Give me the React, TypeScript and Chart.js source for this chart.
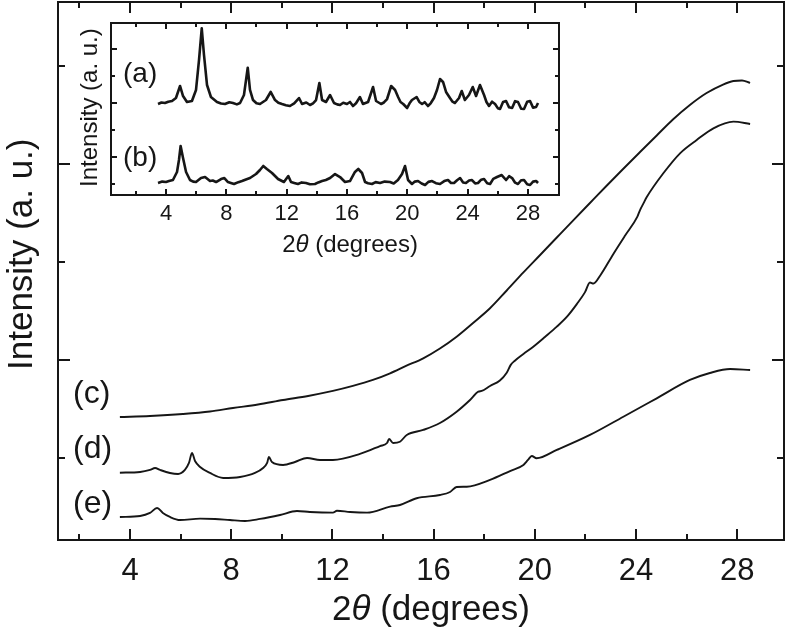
import React, { useEffect, useRef } from "react";
import { Chart, registerables } from "chart.js";

Chart.register(...registerables);

// ---------------- main plot data (2θ in degrees, intensity in a.u.) ----------------
const cTheta = [3.6, 4.79, 6.09, 7.16, 8.07, 9.06, 10.05, 11.04, 12.02, 12.81, 13.6, 14.28, 14.91, 15.59, 16.25, 16.91, 17.56, 18.23, 18.89, 19.55, 20.21, 20.87, 21.51, 22.18, 22.81, 23.49, 24.16, 24.82, 25.46, 26.13, 26.79, 27.44, 27.85, 28.19, 28.51];
const cInt = [0.418, 0.429, 0.449, 0.474, 0.51, 0.546, 0.592, 0.633, 0.684, 0.735, 0.796, 0.864, 0.939, 1.017, 1.117, 1.238, 1.378, 1.528, 1.709, 1.893, 2.071, 2.25, 2.423, 2.602, 2.77, 2.949, 3.122, 3.291, 3.454, 3.602, 3.724, 3.811, 3.847, 3.852, 3.827];

const dTheta = [3.6, 4.4, 4.79, 4.99, 5.19, 5.58, 5.9, 6.17, 6.33, 6.45, 6.57, 6.77, 7.16, 7.68, 8.35, 8.94, 9.26, 9.42, 9.49, 9.61, 10.05, 10.52, 11.0, 11.51, 12.02, 13.09, 13.88, 14.16, 14.24, 14.4, 14.67, 14.94, 15.59, 16.25, 16.91, 17.44, 17.77, 17.9, 18.23, 18.62, 18.89, 19.05, 19.2, 19.55, 19.94, 20.4, 20.87, 21.3, 21.66, 21.98, 22.18, 22.32, 22.58, 23.1, 23.57, 24.05, 24.16, 24.3, 24.42, 25.08, 25.74, 26.4, 27.06, 27.85, 28.51];
const dInt = [-0.15, -0.143, -0.122, -0.102, -0.122, -0.153, -0.163, -0.122, -0.051, 0.051, -0.031, -0.092, -0.153, -0.204, -0.194, -0.153, -0.102, -0.051, 0.01, -0.041, -0.071, -0.041, 0.0, -0.02, -0.02, 0.041, 0.122, 0.153, 0.194, 0.153, 0.166, 0.235, 0.286, 0.357, 0.472, 0.592, 0.677, 0.684, 0.735, 0.79, 0.87, 0.95, 0.99, 1.061, 1.136, 1.235, 1.34, 1.45, 1.57, 1.69, 1.79, 1.78, 1.86, 2.08, 2.27, 2.46, 2.53, 2.6, 2.66, 2.905, 3.109, 3.245, 3.364, 3.432, 3.408];

const eTheta = [3.6, 4.4, 4.79, 5.07, 5.3, 5.58, 5.98, 6.77, 7.36, 7.95, 8.55, 9.14, 9.93, 10.6, 11.11, 12.02, 12.18, 12.7, 13.37, 14.28, 14.67, 15.33, 16.25, 16.65, 16.91, 17.31, 18.23, 19.02, 19.55, 19.73, 19.88, 20.07, 20.87, 22.18, 23.5, 24.82, 26.13, 26.92, 27.72, 28.51];
const eInt = [-0.602, -0.592, -0.561, -0.51, -0.561, -0.602, -0.633, -0.619, -0.622, -0.633, -0.643, -0.622, -0.582, -0.541, -0.551, -0.558, -0.538, -0.551, -0.558, -0.497, -0.48, -0.411, -0.378, -0.347, -0.296, -0.293, -0.224, -0.133, -0.071, -0.02, 0.02, -0.003, 0.082, 0.235, 0.421, 0.609, 0.796, 0.867, 0.908, 0.898];

const mainCurveLabels = ["(c)", "(d)", "(e)"];
const mainXTickValues = [2, 4, 6, 8, 10, 12, 14, 16, 18, 20, 22, 24, 26, 28];
const mainXTickLabels = ["4", "8", "12", "16", "20", "24", "28"];
const mainXLabelValues = [4, 8, 12, 16, 20, 24, 28];
const mainYTickValues = [0, 1, 2, 3, 4];
const mainYMajorValues = [1, 3];

// ---------------- inset data ----------------
const aTheta = [3.47, 3.7, 3.93, 4.15, 4.4, 4.66, 4.93, 5.13, 5.39, 5.72, 5.99, 6.19, 6.37, 6.52, 6.72, 6.98, 7.38, 7.65, 7.91, 8.2, 8.44, 8.7, 8.91, 9.17, 9.42, 9.57, 9.77, 10.0, 10.23, 10.63, 10.94, 11.23, 11.45, 11.69, 11.95, 12.22, 12.5, 12.82, 13.02, 13.3, 13.55, 13.75, 13.95, 14.17, 14.35, 14.61, 14.88, 15.14, 15.35, 15.54, 15.75, 16.0, 16.2, 16.4, 16.6, 16.86, 17.06, 17.4, 17.73, 17.93, 18.26, 18.45, 18.66, 18.93, 19.19, 19.39, 19.55, 19.73, 19.99, 20.15, 20.31, 20.62, 20.8, 20.98, 21.15, 21.37, 21.55, 21.77, 21.97, 22.17, 22.37, 22.57, 22.83, 23.0, 23.16, 23.43, 23.61, 23.82, 24.09, 24.34, 24.56, 24.82, 25.09, 25.25, 25.42, 25.62, 25.82, 26.0, 26.15, 26.35, 26.55, 26.75, 26.95, 27.15, 27.34, 27.55, 27.74, 27.95, 28.14, 28.34, 28.54, 28.67];
const aInt = [2.974, 3.03, 3.011, 3.06, 3.085, 3.196, 3.641, 3.27, 3.048, 3.085, 3.493, 4.604, 5.778, 4.789, 3.678, 3.233, 3.048, 2.99, 2.974, 3.04, 3.011, 2.96, 3.011, 3.307, 4.319, 3.493, 3.122, 3.0, 2.974, 3.122, 3.419, 3.122, 3.02, 2.974, 2.93, 2.9, 3.0, 3.196, 2.974, 3.03, 2.937, 3.0, 3.122, 3.752, 3.122, 3.048, 3.307, 3.011, 2.96, 2.937, 3.02, 2.974, 3.05, 2.9, 3.0, 3.233, 2.974, 3.048, 3.604, 3.085, 2.974, 3.03, 3.159, 3.641, 3.493, 3.233, 3.05, 2.974, 2.826, 3.0, 3.122, 3.233, 3.05, 2.974, 3.04, 2.9, 3.0, 3.196, 3.493, 3.9, 3.789, 3.419, 3.196, 3.06, 3.011, 3.196, 3.456, 3.122, 3.307, 3.604, 3.27, 3.678, 3.307, 3.05, 2.9, 3.06, 2.974, 2.82, 2.789, 3.05, 3.085, 2.85, 2.826, 3.08, 3.048, 2.8, 2.789, 3.06, 3.085, 2.84, 2.863, 3.011];

const bTheta = [3.47, 3.75, 4.0, 4.2, 4.46, 4.73, 4.86, 4.97, 5.13, 5.33, 5.59, 5.8, 5.99, 6.32, 6.59, 6.92, 7.1, 7.32, 7.65, 7.87, 8.11, 8.3, 8.51, 8.8, 9.04, 9.3, 9.57, 9.97, 10.23, 10.45, 10.69, 11.03, 11.43, 11.82, 12.11, 12.29, 12.5, 12.75, 13.0, 13.28, 13.55, 13.88, 14.1, 14.35, 14.6, 14.88, 15.21, 15.54, 15.87, 16.2, 16.53, 16.75, 17.0, 17.2, 17.4, 17.66, 17.9, 18.19, 18.5, 18.85, 19.1, 19.38, 19.65, 19.85, 20.05, 20.31, 20.5, 20.71, 20.95, 21.18, 21.4, 21.64, 21.9, 22.17, 22.45, 22.7, 22.9, 23.1, 23.3, 23.5, 23.7, 23.89, 24.1, 24.29, 24.5, 24.69, 24.9, 25.09, 25.3, 25.49, 25.7, 25.95, 26.26, 26.55, 26.75, 26.95, 27.15, 27.34, 27.55, 27.74, 27.95, 28.14, 28.34, 28.54, 28.67];
const bInt = [0.048, 0.1, 0.085, 0.12, 0.159, 0.456, 0.9, 1.419, 0.974, 0.456, 0.159, 0.1, 0.085, 0.233, 0.27, 0.122, 0.14, 0.085, 0.196, 0.233, 0.085, 0.05, 0.011, 0.08, 0.122, 0.18, 0.233, 0.381, 0.53, 0.678, 0.567, 0.419, 0.196, 0.085, 0.307, 0.085, 0.05, 0.011, 0.07, 0.048, 0.0, 0.011, 0.07, 0.122, 0.16, 0.233, 0.381, 0.27, 0.085, 0.122, 0.456, 0.567, 0.419, 0.085, 0.04, 0.011, 0.08, 0.048, 0.1, 0.085, 0.03, 0.159, 0.381, 0.678, 0.159, 0.011, 0.1, 0.122, 0.03, -0.026, 0.09, 0.122, 0.04, 0.011, 0.12, 0.159, 0.05, 0.048, 0.15, 0.233, 0.07, 0.048, 0.14, 0.159, 0.03, 0.048, 0.17, 0.196, 0.04, 0.011, 0.2, 0.27, 0.344, 0.159, 0.3, 0.233, 0.06, 0.011, 0.15, 0.159, 0.0, -0.026, 0.1, 0.122, 0.048];

const insetCurveLabels = ["(a)", "(b)"];
const insetXTickValues = [2, 4, 6, 8, 10, 12, 14, 16, 18, 20, 22, 24, 26, 28];
const insetXLabelValues = [4, 8, 12, 16, 20, 24, 28];
const insetXTickLabels = ["4", "8", "12", "16", "20", "24", "28"];
const insetYTickValues = [0, 1, 2, 3, 4, 5];

const FONT = "'Liberation Sans', Arial, Helvetica, sans-serif";
const INK = "#161616";

const toPts = (xs: number[], ys: number[]) => xs.map((x, i) => ({ x, y: ys[i] }));

function drawAxisTitle(ctx: CanvasRenderingContext2D, cx: number, baseline: number, size: number) {
  const parts = [
    { t: "2", f: `${size}px ${FONT}` },
    { t: "\u03b8", f: `italic ${size}px ${FONT}` },
    { t: " (degrees)", f: `${size}px ${FONT}` },
  ];
  let total = 0;
  for (const p of parts) {
    ctx.font = p.f;
    total += ctx.measureText(p.t).width;
  }
  let x = cx - total / 2;
  ctx.textAlign = "left";
  ctx.textBaseline = "alphabetic";
  for (const p of parts) {
    ctx.font = p.f;
    ctx.fillText(p.t, x, baseline);
    x += ctx.measureText(p.t).width;
  }
}

type FrameCfg = {
  frameWidth: number;
  xTicks: number[];
  xLabelValues: number[];
  xLabels: string[];
  yTicks: number[];
  yMajor: number[];
  xMajorLen: number;
  xMinorLen: number;
  yMajorLen: number;
  yMinorLen: number;
  tickFont: number;
  tickBaseline: number;
  titleFont: number;
  titleCx: number;
  titleBaseline: number;
  yTitleFont: number;
  yTitleX: number;
  yTitleStartY: number;
  curveLabels: string[];
  curveLabelFont: number;
  curveLabelX: number;
  curveLabelBaselines: number[];
};

function makeFramePlugin(cfg: FrameCfg) {
  return {
    id: "frameTicks",
    afterDraw(chart: any) {
      const { ctx, chartArea: a, scales } = chart;
      const xs = scales.x;
      const ys = scales.y;
      ctx.save();
      ctx.strokeStyle = INK;
      ctx.fillStyle = INK;
      ctx.lineWidth = cfg.frameWidth;
      ctx.lineCap = "butt";
      ctx.strokeRect(a.left, a.top, a.right - a.left, a.bottom - a.top);
      const seg = (x1: number, y1: number, x2: number, y2: number) => {
        ctx.beginPath();
        ctx.moveTo(x1, y1);
        ctx.lineTo(x2, y2);
        ctx.stroke();
      };
      for (const v of cfg.xTicks) {
        const px = Math.round(xs.getPixelForValue(v));
        const len = v % 4 === 0 ? cfg.xMajorLen : cfg.xMinorLen;
        seg(px, a.bottom, px, a.bottom - len);
        seg(px, a.top, px, a.top + len);
      }
      for (const v of cfg.yTicks) {
        const py = Math.round(ys.getPixelForValue(v));
        const len = cfg.yMajor.includes(v) ? cfg.yMajorLen : cfg.yMinorLen;
        seg(a.left, py, a.left + len, py);
        seg(a.right, py, a.right - len, py);
      }
      ctx.font = `${cfg.tickFont}px ${FONT}`;
      ctx.textAlign = "center";
      ctx.textBaseline = "alphabetic";
      cfg.xLabelValues.forEach((v, i) => {
        ctx.fillText(cfg.xLabels[i], xs.getPixelForValue(v), cfg.tickBaseline);
      });
      drawAxisTitle(ctx, cfg.titleCx, cfg.titleBaseline, cfg.titleFont);
      ctx.save();
      ctx.translate(cfg.yTitleX, cfg.yTitleStartY);
      ctx.rotate(-Math.PI / 2);
      ctx.font = `${cfg.yTitleFont}px ${FONT}`;
      ctx.textAlign = "left";
      ctx.textBaseline = "alphabetic";
      ctx.fillText("Intensity (a. u.)", 0, 0);
      ctx.restore();
      ctx.font = `${cfg.curveLabelFont}px ${FONT}`;
      ctx.textAlign = "left";
      cfg.curveLabels.forEach((t, i) => {
        ctx.fillText(t, cfg.curveLabelX, cfg.curveLabelBaselines[i]);
      });
      ctx.restore();
    },
  };
}

export default function App() {
  const mainRef = useRef<HTMLCanvasElement>(null);
  const insetRef = useRef<HTMLCanvasElement>(null);

  useEffect(() => {
    const lineDs = (pts: any[], w: number, smooth: boolean) => ({
      data: pts,
      borderColor: INK,
      borderWidth: w,
      pointRadius: 0,
      fill: false,
      tension: 0,
      borderJoinStyle: "round",
      cubicInterpolationMode: smooth ? "monotone" : "default",
    });

    const main = new Chart(mainRef.current as HTMLCanvasElement, {
      type: "line",
      data: {
        datasets: [
          lineDs(toPts(cTheta, cInt), 1.9, true),
          lineDs(toPts(dTheta, dInt), 1.9, true),
          lineDs(toPts(eTheta, eInt), 1.9, true),
        ] as any,
      },
      options: {
        animation: false,
        responsive: false,
        devicePixelRatio: 1,
        layout: { padding: { left: 58, top: 2, right: 3, bottom: 93 } },
        plugins: { legend: { display: false }, tooltip: { enabled: false } },
        scales: {
          x: { type: "linear", min: 1.154, max: 29.85, display: false },
          y: { type: "linear", min: -0.837, max: 4.653, display: false },
        },
      },
      plugins: [
        makeFramePlugin({
          frameWidth: 2,
          xTicks: mainXTickValues,
          xLabelValues: mainXLabelValues,
          xLabels: mainXTickLabels,
          yTicks: mainYTickValues,
          yMajor: mainYMajorValues,
          xMajorLen: 11,
          xMinorLen: 6,
          yMajorLen: 12,
          yMinorLen: 7,
          tickFont: 31,
          tickBaseline: 580,
          titleFont: 35,
          titleCx: 431,
          titleBaseline: 620,
          yTitleFont: 35,
          yTitleX: 32,
          yTitleStartY: 370,
          curveLabels: mainCurveLabels,
          curveLabelFont: 32,
          curveLabelX: 73,
          curveLabelBaselines: [403, 458, 513],
        }),
      ],
    });

    const inset = new Chart(insetRef.current as HTMLCanvasElement, {
      type: "line",
      data: {
        datasets: [
          lineDs(toPts(aTheta, aInt), 2.6, false),
          lineDs(toPts(bTheta, bInt), 2.6, false),
        ] as any,
      },
      options: {
        animation: false,
        responsive: false,
        devicePixelRatio: 1,
        layout: { padding: { left: 41, top: 8, right: 11, bottom: 70 } },
        plugins: { legend: { display: false }, tooltip: { enabled: false } },
        scales: {
          x: { type: "linear", min: 0.353, max: 30.06, display: false },
          y: { type: "linear", min: -0.396, max: 5.974, display: false },
        },
      },
      plugins: [
        makeFramePlugin({
          frameWidth: 2,
          xTicks: insetXTickValues,
          xLabelValues: insetXLabelValues,
          xLabels: insetXTickLabels,
          yTicks: insetYTickValues,
          yMajor: [1, 3, 5],
          xMajorLen: 6,
          xMinorLen: 4,
          yMajorLen: 6,
          yMinorLen: 4,
          tickFont: 22,
          tickBaseline: 205,
          titleFont: 24,
          titleCx: 280,
          titleBaseline: 237,
          yTitleFont: 24,
          yTitleX: 27,
          yTitleStartY: 172,
          curveLabels: insetCurveLabels,
          curveLabelFont: 28,
          curveLabelX: 53,
          curveLabelBaselines: [67, 151],
        }),
      ],
    });

    return () => {
      main.destroy();
      inset.destroy();
    };
  }, []);

  return (
    <div style={{ position: "fixed", left: 0, top: 0, width: 787, height: 633, background: "#fff" }}>
      <canvas ref={mainRef} width={787} height={633} style={{ position: "absolute", left: 0, top: 0, display: "block" }} />
      <canvas ref={insetRef} width={500} height={250} style={{ position: "absolute", left: 70, top: 15, display: "block" }} />
    </div>
  );
}
